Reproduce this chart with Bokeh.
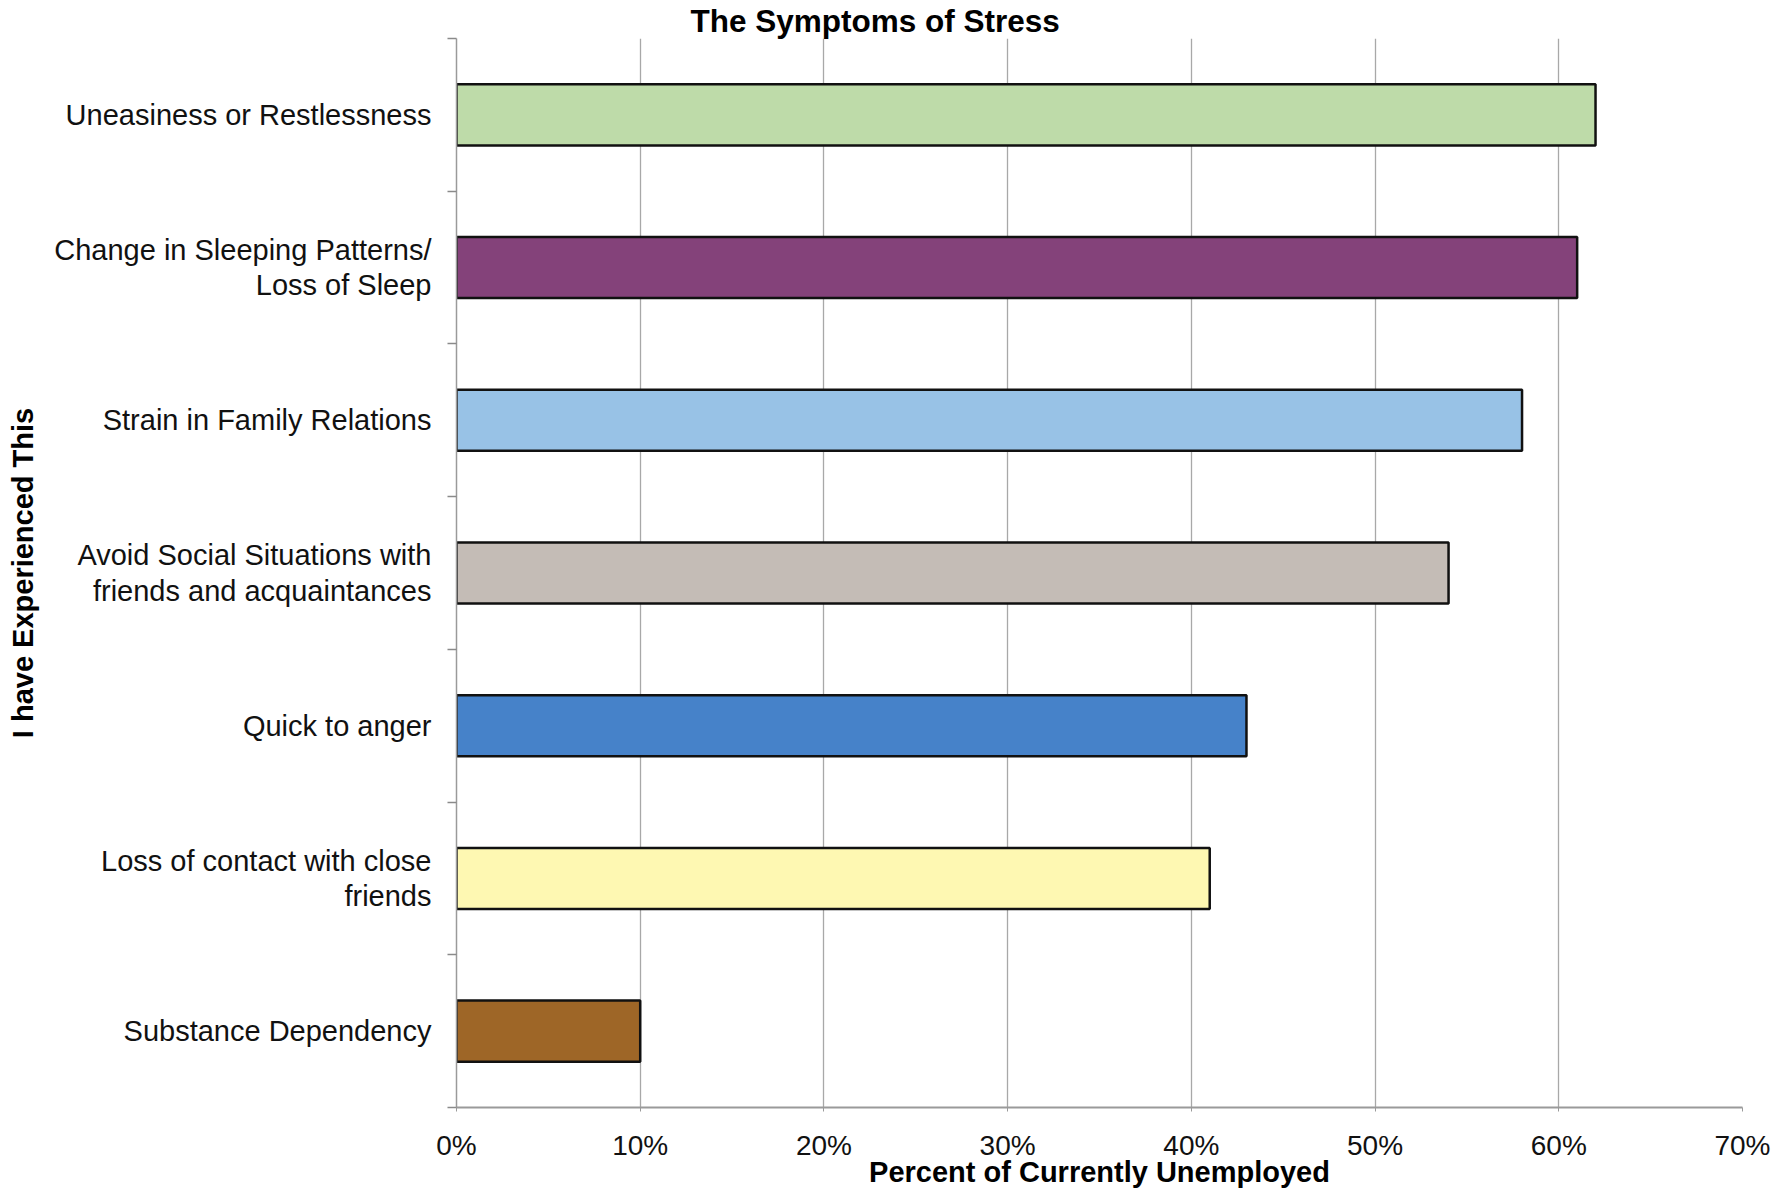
from bokeh.plotting import figure
from bokeh.models import Range1d, FixedTicker
from bokeh.embed import file_html
from bokeh.resources import INLINE

categories = [
    "Uneasiness or Restlessness",
    "Change in Sleeping Patterns/\nLoss of Sleep",
    "Strain in Family Relations",
    "Avoid Social Situations with\nfriends and acquaintances",
    "Quick to anger",
    "Loss of contact with close\nfriends",
    "Substance Dependency",
]
values = [62, 61, 58, 54, 43, 41, 10]
colors = ["#BEDBA9", "#84427A", "#98C2E6", "#C4BCB6", "#4682C9", "#FEF8B2", "#9E6627"]
x_ticks = [0, 10, 20, 30, 40, 50, 60, 70]
x_tick_labels = ["0%", "10%", "20%", "30%", "40%", "50%", "60%", "70%"]

FONT = "Liberation Sans"
n = len(categories)
positions = [i + 0.5 for i in range(n)]
boundaries = list(range(n + 1))

p = figure(
    frame_width=1286, frame_height=1069,
    x_range=Range1d(0, 70), y_range=Range1d(n, 0),
    output_backend="svg", toolbar_location=None,
    min_border_left=456, min_border_top=0, min_border_right=42, min_border_bottom=0,
    x_axis_label="Percent of Currently Unemployed",
    y_axis_label="I have Experienced This",
)
p.outline_line_color = None
p.background_fill_color = "white"

p.hbar(y=positions, left=0, right=values, height=0.4,
       fill_color=colors, line_color="#111111", line_width=2.5)

p.title.text = "The Symptoms of Stress"
p.title.text_font = FONT
p.title.text_font_size = "31.5px"
p.title.text_font_style = "bold"
p.title.text_color = "#000000"
p.title.align = "left"
p.title.offset = 234
p.title.standoff = 0

p.ygrid.visible = False
p.xgrid.ticker = FixedTicker(ticks=x_ticks)
p.xgrid.grid_line_color = "#a8a8a8"
p.xgrid.grid_line_width = 1.3

xa = p.xaxis[0]
xa.ticker = FixedTicker(ticks=x_ticks)
xa.major_label_overrides = dict(zip(x_ticks, x_tick_labels))
xa.axis_line_color = "#9a9a9a"
xa.axis_line_width = 2
xa.major_tick_in = 0
xa.major_tick_out = 4
xa.major_tick_line_color = "#9a9a9a"
xa.minor_tick_line_color = None
xa.major_label_standoff = 18
xa.major_label_text_font = FONT
xa.major_label_text_font_size = "28px"
xa.major_label_text_color = "#111111"
xa.axis_label_standoff = -8
xa.axis_label_text_font = FONT
xa.axis_label_text_font_size = "29px"
xa.axis_label_text_font_style = "bold"
xa.axis_label_text_color = "#000000"

ya = p.yaxis[0]
ya.ticker = FixedTicker(ticks=positions, minor_ticks=boundaries)
ya.major_label_overrides = dict(zip(positions, categories))
ya.axis_line_color = "#9a9a9a"
ya.axis_line_width = 1.5
ya.major_tick_in = 0
ya.major_tick_out = 0
ya.minor_tick_in = 0
ya.minor_tick_out = 9
ya.minor_tick_line_color = "#8a8a8a"
ya.minor_tick_line_width = 1.5
ya.major_label_standoff = 16
ya.major_label_text_font = FONT
ya.major_label_text_font_size = "29px"
ya.major_label_text_line_height = 1.12
ya.major_label_text_color = "#111111"
ya.axis_label_standoff = 12
ya.axis_label_text_font = FONT
ya.axis_label_text_font_size = "29px"
ya.axis_label_text_font_style = "bold"
ya.axis_label_text_color = "#000000"

open("out.html", "w").write(file_html(p, INLINE))
